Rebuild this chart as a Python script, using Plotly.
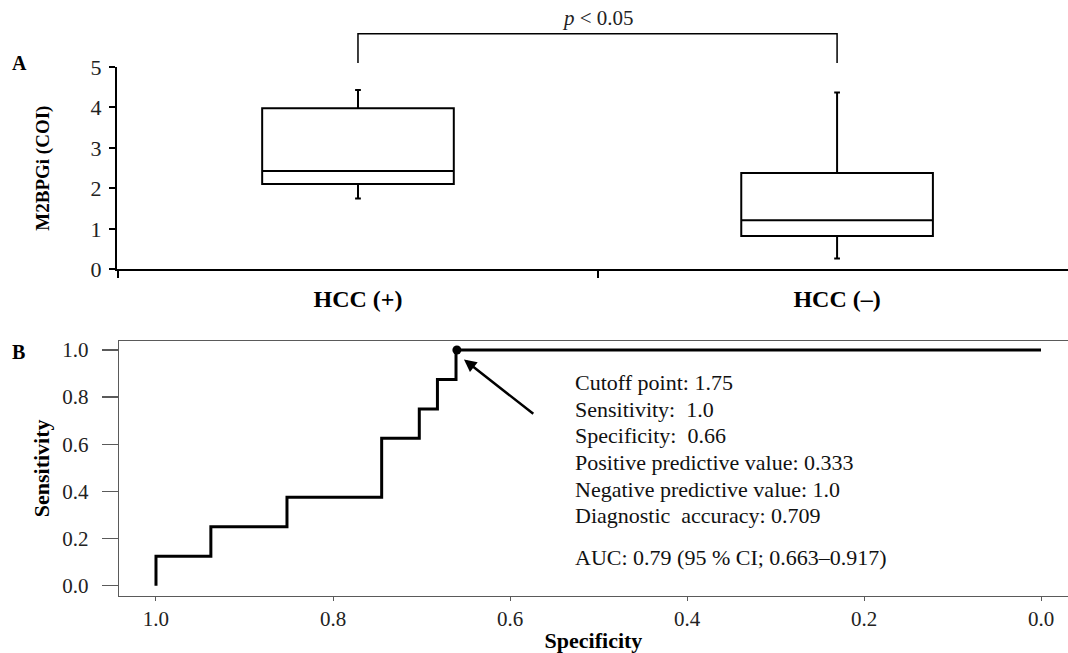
import plotly.graph_objects as go

# ---------------- data ----------------
# Panel A: box plot summary statistics of M2BPGi (COI)
groups = ["HCC (+)", "HCC (–)"]
q1_vals = [2.11, 0.82]
median_vals = [2.43, 1.21]
q3_vals = [3.98, 2.38]
lower_whisker = [1.75, 0.27]
upper_whisker = [4.43, 4.37]
y_ticks_a = [0, 1, 2, 3, 4, 5]
bracket_top = 5.82      # bracket level (COI units)
bracket_foot = 5.10     # lower end of bracket legs
p_label = "<i>p</i> &lt; 0.05"

# Panel B: ROC curve (step points, specificity reversed on x)
roc_specificity = [1.0, 0.938, 0.852, 0.745, 0.7025, 0.682, 0.661, 0.0]
roc_sensitivity = [0.0, 0.125, 0.25, 0.375, 0.625, 0.75, 0.875, 1.0]
cutoff_spec = 0.66
cutoff_sens = 1.0
roc_ticks = [0.0, 0.2, 0.4, 0.6, 0.8, 1.0]
stats_lines = [
    "Cutoff point: 1.75",
    "Sensitivity:  1.0",
    "Specificity:  0.66",
    "Positive predictive value: 0.333",
    "Negative predictive value: 1.0",
    "Diagnostic  accuracy: 0.709",
]
auc_line = "AUC: 0.79 (95 % CI; 0.663–0.917)"

# ---------------- style ----------------
W, H = 1068, 653
SERIF = "Liberation Serif, Times New Roman, serif"
FRAME = "#5a5a5a"

def py(px):  # page pixel row -> paper y
    return 1 - px / H

def pxx(px):  # page pixel column -> paper x
    return px / W

fig = go.Figure()

for i, g in enumerate(groups):
    fig.add_trace(go.Box(
        x=[g], q1=[q1_vals[i]], median=[median_vals[i]], q3=[q3_vals[i]],
        lowerfence=[lower_whisker[i]], upperfence=[upper_whisker[i]],
        width=0.4, whiskerwidth=0.03, boxpoints=False,
        fillcolor="white", line=dict(color="black", width=2),
        xaxis="x", yaxis="y", showlegend=False, hoverinfo="skip",
    ))

fig.add_trace(go.Scatter(
    x=roc_specificity, y=roc_sensitivity, mode="lines",
    line=dict(color="black", width=3, shape="vh"),
    xaxis="x2", yaxis="y2", showlegend=False, hoverinfo="skip",
))
fig.add_trace(go.Scatter(
    x=[cutoff_spec], y=[cutoff_sens], mode="markers",
    marker=dict(color="black", size=9),
    xaxis="x2", yaxis="y2", showlegend=False, hoverinfo="skip", cliponaxis=False,
))

ya_max = y_ticks_a[-1]
# significance bracket (x in category units, y in y-domain units)
fig.add_shape(type="path",
              path=f"M 0 {bracket_foot/ya_max} L 0 {bracket_top/ya_max} L 1 {bracket_top/ya_max} L 1 {bracket_foot/ya_max}",
              xref="x", yref="y domain", line=dict(color="black", width=1.5))
fig.add_annotation(x=0.5, y=(bracket_top + 0.38) / ya_max, xref="x", yref="y domain",
                   text=p_label, showarrow=False, xanchor="center", yanchor="middle",
                   font=dict(family=SERIF, size=21, color="#222"))

# arrow to cutoff point
fig.add_annotation(x=0.652, y=0.96, ax=0.572, ay=0.724, xref="x2", yref="y2",
                   axref="x2", ayref="y2", text="", showarrow=True,
                   arrowhead=2, arrowsize=1, arrowwidth=2.5, arrowcolor="black", standoff=0)

# stats text
for k, line in enumerate(stats_lines):
    fig.add_annotation(x=pxx(573), y=py(382.7 + 26.6 * k), xref="paper", yref="paper",
                       text=line, showarrow=False, xanchor="left", yanchor="middle",
                       font=dict(family=SERIF, size=22, color="#111"))
fig.add_annotation(x=pxx(573), y=py(557.7), xref="paper", yref="paper",
                   text=auc_line, showarrow=False, xanchor="left", yanchor="middle",
                   font=dict(family=SERIF, size=22, color="#111"))

# panel letters
fig.add_annotation(x=pxx(19), y=py(63), xref="paper", yref="paper", text="<b>A</b>",
                   showarrow=False, xanchor="center", yanchor="middle",
                   font=dict(family=SERIF, size=20, color="black"))
fig.add_annotation(x=pxx(18), y=py(352), xref="paper", yref="paper", text="<b>B</b>",
                   showarrow=False, xanchor="center", yanchor="middle",
                   font=dict(family=SERIF, size=20, color="black"))

fig.update_layout(
    width=W, height=H, template="none",
    margin=dict(l=0, r=0, t=0, b=0),
    paper_bgcolor="white", plot_bgcolor="white",
    font=dict(family=SERIF, color="black"),
    xaxis=dict(domain=[pxx(117), 1], anchor="y", type="category",
               categoryorder="array", categoryarray=groups,
               range=[-0.503, 1.482], showgrid=False, zeroline=False,
               showline=True, linecolor="black", linewidth=2,
               tickson="boundaries", ticks="outside", ticklen=7, tickwidth=2, tickcolor="black",
               ticklabelstandoff=7,
               tickfont=dict(family=SERIF, size=24, weight="bold"),
               automargin=False, fixedrange=True),
    yaxis=dict(domain=[py(269.3), py(67)], anchor="x", range=[0, ya_max],
               tickvals=y_ticks_a, showgrid=False, zeroline=False,
               showline=True, linecolor="black", linewidth=2,
               ticks="outside", ticklen=6, tickwidth=2, tickcolor="black",
               ticklabelstandoff=3,
               tickfont=dict(family=SERIF, size=22, color="#222"),
               title=dict(text="<b>M2BPGi (COI)</b>", font=dict(family=SERIF, size=19), standoff=36),
               automargin=False),
    xaxis2=dict(domain=[pxx(119), 1], anchor="y2",
                range=[1.0418, -0.0305], tickvals=roc_ticks, tickformat=".1f",
                showgrid=False, zeroline=False,
                showline=True, mirror=True, linecolor=FRAME, linewidth=1.3,
                ticks="outside", ticklen=4, tickwidth=1, tickcolor=FRAME,
                tickfont=dict(family=SERIF, size=21, color="#222"),
                title=dict(text="<b>Specificity</b>", font=dict(family=SERIF, size=22), standoff=2),
                automargin=False),
    yaxis2=dict(domain=[py(595.7), py(341)], anchor="x2",
                range=[-0.0424, 1.038], tickvals=roc_ticks, tickformat=".1f",
                showgrid=False, zeroline=False,
                showline=True, linecolor=FRAME, linewidth=1.3,
                ticks="outside", ticklen=16, tickwidth=1.3, tickcolor=FRAME,
                ticklabelstandoff=9,
                tickfont=dict(family=SERIF, size=21, color="#222"),
                title=dict(text="<b>Sensitivity</b>", font=dict(family=SERIF, size=22), standoff=6),
                automargin=False),
)

# remove the browser's default 8px page margin so the figure fills the window exactly
fig.write_html("out.html",
               config={"displayModeBar": False, "staticPlot": True},
               post_script="document.body.style.margin='0px';document.body.style.overflow='hidden';")
